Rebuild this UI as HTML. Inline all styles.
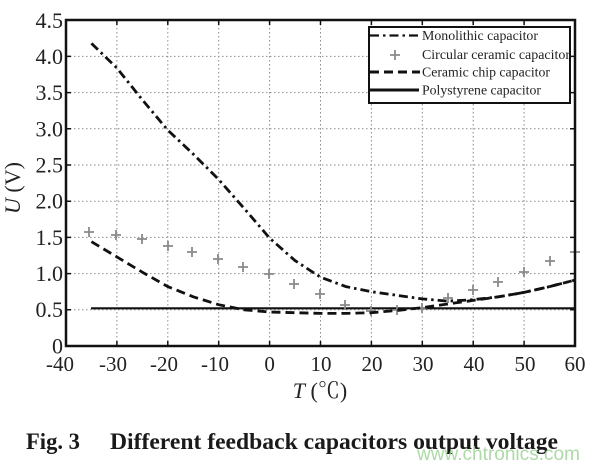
<!DOCTYPE html>
<html><head><meta charset="utf-8"><style>
html,body{margin:0;padding:0;background:#fff;}
svg{display:block;}
</style></head><body>
<svg width="600" height="468" viewBox="0 0 600 468" xmlns="http://www.w3.org/2000/svg">
<rect x="0" y="0" width="600" height="468" fill="#fff"/>
<!-- grid -->
<g stroke="#8c8c8c" stroke-width="1" stroke-dasharray="1.5 2.5" fill="none">
<line x1="116.9" y1="20" x2="116.9" y2="346"/>
<line x1="167.8" y1="20" x2="167.8" y2="346"/>
<line x1="218.7" y1="20" x2="218.7" y2="346"/>
<line x1="269.6" y1="20" x2="269.6" y2="346"/>
<line x1="320.5" y1="20" x2="320.5" y2="346"/>
<line x1="371.4" y1="20" x2="371.4" y2="346"/>
<line x1="422.3" y1="20" x2="422.3" y2="346"/>
<line x1="473.2" y1="20" x2="473.2" y2="346"/>
<line x1="524.1" y1="20" x2="524.1" y2="346"/>
<line x1="66" y1="309.8" x2="575" y2="309.8"/>
<line x1="66" y1="273.6" x2="575" y2="273.6"/>
<line x1="66" y1="237.4" x2="575" y2="237.4"/>
<line x1="66" y1="201.2" x2="575" y2="201.2"/>
<line x1="66" y1="165" x2="575" y2="165"/>
<line x1="66" y1="128.8" x2="575" y2="128.8"/>
<line x1="66" y1="92.6" x2="575" y2="92.6"/>
<line x1="66" y1="56.4" x2="575" y2="56.4"/>
</g>
<!-- polystyrene -->
<line x1="91" y1="308.3" x2="575" y2="308.3" stroke="#111" stroke-width="2.2"/>
<!-- circular ceramic markers -->
<g stroke="#8a8a8a" stroke-width="1.8" fill="none">
<path d="M84 232h10M89 227v10"/>
<path d="M111 235h10M116 230v10"/>
<path d="M137 239h10M142 234v10"/>
<path d="M163 246h10M168 241v10"/>
<path d="M187 252h10M192 247v10"/>
<path d="M213 259h10M218 254v10"/>
<path d="M238 267h10M243 262v10"/>
<path d="M264 274h10M269 269v10"/>
<path d="M289 284h10M294 279v10"/>
<path d="M315 294h10M320 289v10"/>
<path d="M340 305h10M345 300v10"/>
<path d="M366 311h10M371 306v10"/>
<path d="M392 310h10M397 305v10"/>
<path d="M417 308h10M422 303v10"/>
<path d="M443 298h10M448 293v10"/>
<path d="M468 290h10M473 285v10"/>
<path d="M493 282h10M498 277v10"/>
<path d="M519 272h10M524 267v10"/>
<path d="M545 261h10M550 256v10"/>
<path d="M570 252h10M575 247v10"/>
</g>
<!-- monolithic dash-dot -->
<polyline fill="none" stroke="#111" stroke-width="2.8" stroke-dasharray="9 4 2.5 4" points="91.45,43.4 116.9,68.0 142.35,99.8 167.8,130.2 193.25,154.1 218.7,179.5 244.15,208.4 269.6,238.1 295.05,260.6 320.5,277.2 345.95,286.6 371.4,291.7 396.85,295.3 422.3,298.9 447.75,301.1 473.2,299.7 498.65,296.8 524.1,292.4 549.55,286.6 575,280.1"/>
<!-- ceramic chip dashed -->
<polyline fill="none" stroke="#111" stroke-width="2.8" stroke-dasharray="9 5" points="91.45,241.7 116.9,256.9 142.35,272.2 167.8,286.6 193.25,296.8 218.7,304.7 244.15,309.8 269.6,312.0 295.05,312.7 320.5,313.4 345.95,313.4 371.4,312.7 396.85,310.5 422.3,307.6 447.75,304.0 473.2,300.4 498.65,296.8 524.1,292.4 549.55,286.6 575,280.1"/>
<!-- frame -->
<rect x="66" y="20" width="509" height="326" fill="none" stroke="#111" stroke-width="2.5"/>
<!-- ticks -->
<g stroke="#111" stroke-width="1.5">
<path d="M116.9 346v-5M167.8 346v-5M218.7 346v-5M269.6 346v-5M320.5 346v-5M371.4 346v-5M422.3 346v-5M473.2 346v-5M524.1 346v-5"/>
<path d="M116.9 20v5M167.8 20v5M218.7 20v5M269.6 20v5M320.5 20v5M371.4 20v5M422.3 20v5M473.2 20v5M524.1 20v5"/>
<path d="M66 309.8h5M66 273.6h5M66 237.4h5M66 201.2h5M66 165h5M66 128.8h5M66 92.6h5M66 56.4h5"/>
<path d="M575 309.8h-5M575 273.6h-5M575 237.4h-5M575 201.2h-5M575 165h-5M575 128.8h-5M575 92.6h-5M575 56.4h-5"/>
</g>
<!-- legend -->
<rect x="369" y="27" width="201" height="76" fill="#fff" stroke="#111" stroke-width="2"/>
<line x1="370" y1="35.5" x2="420" y2="35.5" stroke="#111" stroke-width="2.2" stroke-dasharray="9 4 2.5 4"/>
<path d="M390 55h10M395 50v10" stroke="#8a8a8a" stroke-width="1.8"/>
<line x1="370" y1="72" x2="420" y2="72" stroke="#111" stroke-width="3" stroke-dasharray="9 5"/>
<line x1="370" y1="90" x2="419" y2="90" stroke="#111" stroke-width="3"/>
<g font-family="'Liberation Serif', serif" font-size="13.5" fill="#222">
<text x="422" y="40" textLength="116" lengthAdjust="spacingAndGlyphs">Monolithic capacitor</text>
<text x="422" y="59" textLength="148" lengthAdjust="spacingAndGlyphs">Circular ceramic capacitor</text>
<text x="422" y="76.5" textLength="128" lengthAdjust="spacingAndGlyphs">Ceramic chip capacitor</text>
<text x="422" y="94.5" textLength="119" lengthAdjust="spacingAndGlyphs">Polystyrene capacitor</text>
</g>
<!-- y tick labels -->
<g font-family="'Liberation Serif', serif" font-size="22" fill="#222" text-anchor="end">
<text x="63" y="28">4.5</text>
<text x="63" y="64">4.0</text>
<text x="63" y="100">3.5</text>
<text x="63" y="136.5">3.0</text>
<text x="63" y="172.5">2.5</text>
<text x="63" y="208.5">2.0</text>
<text x="63" y="245">1.5</text>
<text x="63" y="281">1.0</text>
<text x="63" y="317">0.5</text>
<text x="63" y="353.5">0</text>
</g>
<!-- x tick labels -->
<g font-family="'Liberation Serif', serif" font-size="21" fill="#222" text-anchor="middle">
<text x="60" y="371">-40</text>
<text x="113" y="371">-30</text>
<text x="164" y="371">-20</text>
<text x="215" y="371">-10</text>
<text x="269.6" y="371">0</text>
<text x="321" y="371">10</text>
<text x="372" y="371">20</text>
<text x="423" y="371">30</text>
<text x="474" y="371">40</text>
<text x="525" y="371">50</text>
<text x="575" y="371">60</text>
</g>
<!-- axis titles -->
<text x="320" y="398" font-family="'Liberation Serif', 'Noto Serif CJK SC', serif" font-size="22" fill="#222" text-anchor="middle"><tspan font-style="italic">T</tspan> (℃)</text>
<text transform="translate(20,188) rotate(-90)" font-family="'Liberation Serif', serif" font-size="22" fill="#222" text-anchor="middle"><tspan font-style="italic">U</tspan> (V)</text>
<!-- caption -->
<g font-family="'Liberation Serif', serif" font-size="23" font-weight="bold" fill="#1a1a1a">
<text x="26" y="449" textLength="54" lengthAdjust="spacingAndGlyphs">Fig. 3</text>
<text x="110" y="449" textLength="448" lengthAdjust="spacingAndGlyphs">Different feedback capacitors output voltage</text>
</g>
<text x="417" y="460" font-family="'Liberation Sans', sans-serif" font-size="19" fill="#9fd496" fill-opacity="0.85" textLength="163" lengthAdjust="spacingAndGlyphs">www.chtronics.com</text>
</svg>
</body></html>
